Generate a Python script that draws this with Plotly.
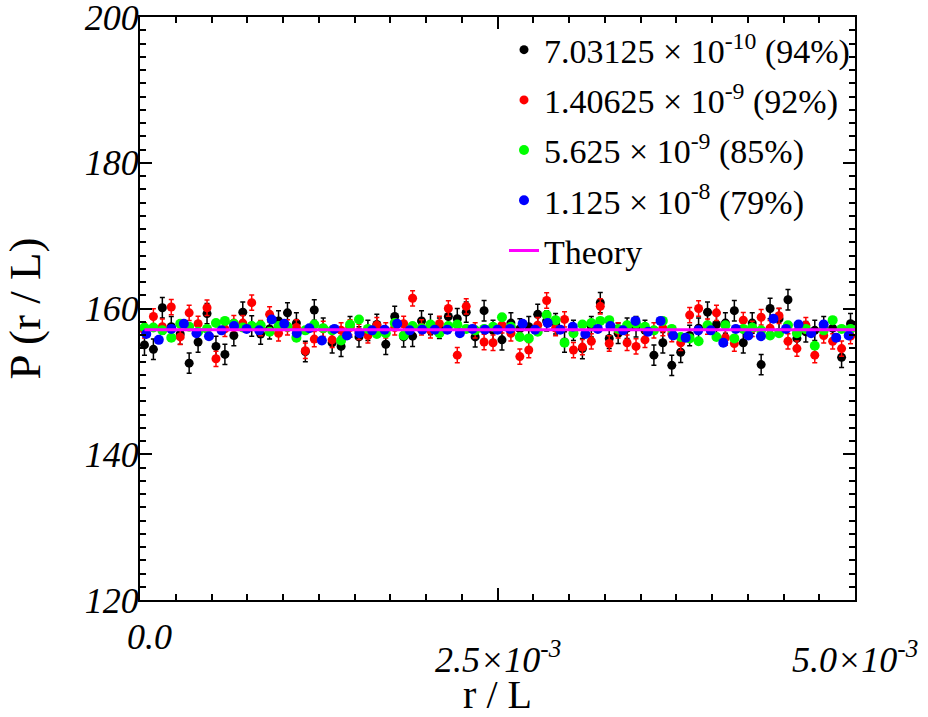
import numpy as np
import plotly.graph_objects as go

# ---- data ----
x_max = 5.0e-3
n_fine = 80     # bins for black, red, green
n_coarse = 57   # bins for blue

black_y = [155.0, 154.4, 160.1, 157.5, 156.5, 152.5, 155.4, 159.3, 154.8, 153.7,
           156.3, 159.5, 157.6, 156.5, 157.2, 158.3, 159.4, 158.0, 154.1, 159.8,
           157.3, 155.3, 154.8, 157.5, 156.1, 157.0, 157.8, 155.1, 158.9, 156.1,
           156.2, 158.3, 157.8, 157.3, 158.9, 158.6, 159.5, 156.1, 159.7, 157.0,
           155.7, 158.0, 157.2, 157.5, 159.2, 158.3, 157.9, 155.4, 157.0, 154.5,
           157.5, 160.8, 155.9, 156.6, 157.3, 157.5, 157.0, 153.6, 155.3, 152.2,
           154.0, 156.3, 157.3, 159.5, 157.8, 158.0, 159.7, 155.3, 158.0, 152.3,
           160.0, 158.6, 161.2, 155.9, 156.8, 157.0, 157.5, 157.3, 153.3, 157.9]
red_y = [157.0, 158.9, 157.5, 160.2, 156.1, 159.4, 157.9, 160.1, 153.1, 157.2,
         158.0, 158.0, 160.8, 157.3, 159.2, 156.6, 157.4, 157.4, 154.2, 155.8,
         157.2, 155.7, 157.0, 157.4, 156.8, 156.3, 157.7, 157.0, 157.4, 157.9,
         161.4, 157.4, 157.0, 157.9, 160.0, 153.6, 160.3, 157.0, 155.4, 155.3,
         157.7, 156.6, 153.4, 154.3, 157.7, 161.1, 157.3, 158.5, 154.3, 154.7,
         155.5, 160.3, 155.2, 157.0, 155.3, 154.8, 155.7, 157.0, 157.3, 156.5,
         155.3, 159.1, 160.0, 157.5, 159.4, 156.0, 155.2, 158.4, 157.2, 158.8,
         157.3, 159.0, 155.5, 154.5, 157.7, 153.6, 156.3, 155.5, 154.5, 156.2]
green_y = [157.4, 157.4, 157.0, 156.0, 157.9, 157.5, 156.8, 157.2, 158.0, 158.3,
           157.9, 157.4, 157.6, 157.7, 156.8, 157.6, 157.5, 156.0, 157.0, 157.8,
           157.3, 157.0, 155.6, 157.8, 158.5, 157.2, 156.5, 156.6, 158.0, 156.3,
           157.6, 157.3, 157.8, 156.6, 157.6, 157.8, 157.2, 157.0, 157.2, 157.5,
           158.8, 157.5, 156.1, 155.9, 156.8, 159.1, 158.4, 155.3, 156.6, 157.8,
           158.0, 158.3, 158.4, 157.2, 157.7, 157.9, 157.5, 157.0, 158.3, 157.2,
           156.1, 155.9, 155.5, 157.7, 156.1, 157.7, 155.9, 157.2, 157.4, 157.0,
           156.3, 156.6, 157.7, 156.6, 157.2, 154.9, 157.0, 158.4, 157.2, 157.2]
blue_y = [156.5, 155.7, 157.2, 157.9, 156.6, 156.2, 157.0, 157.6, 157.2, 157.0,
          158.5, 157.9, 156.6, 157.3, 155.6, 157.2, 156.3, 156.6, 157.0, 157.1,
          157.9, 157.0, 157.1, 157.1, 157.1, 156.6, 157.2, 157.1, 157.1, 157.2,
          157.9, 157.1, 158.0, 157.1, 157.5, 156.5, 157.2, 157.6, 157.0, 158.3,
          156.8, 158.3, 156.3, 156.0, 157.0, 157.0, 155.3, 157.2, 156.3, 156.2,
          158.6, 157.2, 157.8, 156.6, 157.8, 156.0, 156.3]
black_err = 1.4
red_err = 1.05
green_err = 0.4
blue_err = 0.4
theory_value = 157.08

series_names = ["7.03125 × 10<sup>-10</sup> (94%)",
                "1.40625 × 10<sup>-9</sup> (92%)",
                "5.625 × 10<sup>-9</sup> (85%)",
                "1.125 × 10<sup>-8</sup> (79%)",
                "Theory"]
series_colors = ["#000000", "#ff0000", "#00ff00", "#0000ff", "#ff00ff"]

x_tick_vals = [0.0, 2.5e-3, 5.0e-3]
x_tick_text = ["0.0", "2.5×10<sup>-3</sup>", "5.0×10<sup>-3</sup>"]
y_tick_vals = [120, 140, 160, 180, 200]

x_fine = (np.arange(n_fine) + 0.5) * x_max / n_fine
x_coarse = (np.arange(n_coarse) + 0.5) * x_max / n_coarse

FONT = "Liberation Serif"
fig = go.Figure()

def add_series(x, y, err, name, color, size, group):
    fig.add_trace(go.Scatter(
        x=x, y=y, mode="markers", name=name, legendgroup=group,
        marker=dict(color=color, size=size),
        error_y=dict(type="constant", value=err, color=color,
                     thickness=1.5, width=2.5),
    ))

add_series(x_fine, black_y, black_err, series_names[0], series_colors[0], 9, "a")
add_series(x_fine, red_y, red_err, series_names[1], series_colors[1], 9, "b")
add_series(x_fine, green_y, green_err, series_names[2], series_colors[2], 10, "c")
add_series(x_coarse, blue_y, blue_err, series_names[3], series_colors[3], 10, "d")

fig.add_trace(go.Scatter(
    x=[x_fine[0], x_max], y=[theory_value, theory_value], mode="lines",
    name=series_names[4], legendgroup="e",
    line=dict(color=series_colors[4], width=3),
))

axis_common = dict(
    showline=True, linecolor="black", linewidth=2, mirror="allticks",
    ticks="inside", tickcolor="black", tickwidth=2, ticklen=12,
    showgrid=False, zeroline=False,
)

fig.update_xaxes(
    range=[0, x_max], tickvals=x_tick_vals, showticklabels=False,
    minor=dict(dtick=2.5e-4, tick0=0, ticks="inside", ticklen=6,
               tickwidth=1.5, tickcolor="black", showgrid=False),
    title=dict(text="r / L", font=dict(family=FONT, size=40, color="black"),
               standoff=84),
    **axis_common,
)
fig.update_yaxes(
    range=[120, 200], tickvals=y_tick_vals,
    tickfont=dict(family=FONT, size=36, color="black", style="italic"),
    ticklabelstandoff=-8, ticklabeloverflow="allow",
    minor=dict(dtick=20 / 11, tick0=120, ticks="inside", ticklen=6,
               tickwidth=1.5, tickcolor="black", showgrid=False),
    title=dict(text="P (r / L)", font=dict(family=FONT, size=45, color="black"),
               standoff=38),
    **axis_common,
)

annotations = []
label_y = [-0.063, -0.099, -0.099]
label_shift = [9, 0, 0]
for v, t, yy, sh in zip(x_tick_vals, x_tick_text, label_y, label_shift):
    annotations.append(dict(
        x=v, y=yy, xref="x", yref="paper", text=t, showarrow=False,
        xanchor="center", yanchor="middle", xshift=sh,
        font=dict(family=FONT, size=36, color="black", style="italic"),
    ))

fig.update_layout(
    width=928, height=717,
    margin=dict(l=140, r=73, t=17, b=117, autoexpand=False),
    paper_bgcolor="white", plot_bgcolor="white",
    font=dict(family=FONT, color="black"),
    showlegend=True,
    legend=dict(
        x=1.0, y=0.993, xanchor="right", yanchor="top",
        bgcolor="rgba(0,0,0,0)", borderwidth=0,
        font=dict(family=FONT, size=34, color="black"),
        traceorder="grouped", tracegroupgap=3,
        itemwidth=30,
    ),
    annotations=annotations,
)

fig.write_html("out.html",
               config={"displayModeBar": False},
               post_script="document.body.style.margin='0';")
